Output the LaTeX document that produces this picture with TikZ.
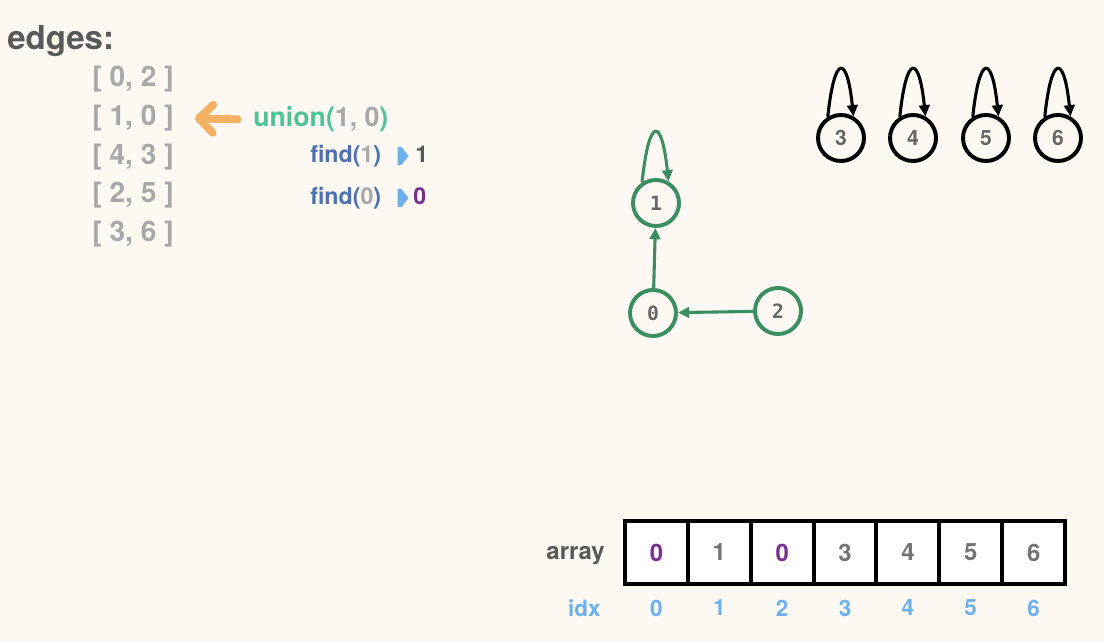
\documentclass[tikz,border=0pt]{standalone}
\usepackage{fontspec}
\setmainfont{TeX Gyre Heros}
\newfontfamily\monofont{DejaVu Sans Mono}
\usetikzlibrary{arrows.meta,positioning,shapes.symbols}
\definecolor{bgcream}{HTML}{FDF8F2}
\definecolor{darktext}{HTML}{595959}
\definecolor{edgegray}{HTML}{A8A8A8}
\definecolor{uniongreen}{HTML}{4FC296}
\definecolor{findblue}{HTML}{4A71B1}
\definecolor{markblue}{HTML}{6CB1EE}
\definecolor{rootpurple}{HTML}{7A2E8E}
\definecolor{graphgreen}{HTML}{3B8E64}
\definecolor{arroworange}{HTML}{F2B163}
\definecolor{labelgray}{HTML}{666666}
\definecolor{cellgray}{HTML}{737373}
\begin{document}
\begin{tikzpicture}[
    x=0.025cm,y=0.025cm,
    >={Triangle[length=8pt,width=7.5pt]},
    title/.style={
        anchor=base west,
        inner sep=0pt,
        font=\fontsize{23.5}{27}\selectfont\bfseries,
        text=darktext
    },
    pair/.style={inner sep=0pt,font=\fontsize{20}{24}\selectfont\bfseries,text=edgegray},
    call/.style={anchor=base west,inner sep=0pt,font=\fontsize{19}{22}\selectfont\bfseries},
    findcall/.style={anchor=base west,inner sep=0pt,font=\fontsize{16.5}{20}\selectfont\bfseries},
    marker/.style={
        signal,signal to=east,signal pointer angle=104,
        fill=markblue,
        minimum width=7.8pt,
        minimum height=12.8pt,
        inner sep=0pt
    },
    vertex/.style={circle,draw=graphgreen,line width=2.8pt,minimum size=1.15cm,inner sep=0pt,
        text=labelgray,font=\monofont\bfseries\fontsize{14}{14}\selectfont},
    single/.style={circle,draw=black,line width=2.8pt,minimum size=1.15cm,inner sep=0pt,
        text=labelgray,font=\fontsize{15}{15}\selectfont\bfseries},
    gedge/.style={->,draw=graphgreen,line width=2.2pt},
    selfloop/.style={->,line width=2.2pt},
    cell/.style={
        draw=black,fill=white,
        line width=2.85pt,
        minimum width=1.5715cm,
        minimum height=1.575cm,
        inner sep=0pt,outer sep=0pt,
        font=\fontsize{17}{17}\selectfont\bfseries,text=cellgray
    },
    idxnum/.style={font=\fontsize{16}{16}\selectfont\bfseries,text=markblue,inner sep=0pt},
    node distance=0.97cm
    ]

    \useasboundingbox (0,0) rectangle (1104,-642);
    \fill[bgcream] (0,0) rectangle (1104,-642);

    \node[title] (edges) at (7,-50) {edges:};
  \node[pair] (e1) at (133,-79) {[ 0, 2 ]};
    \node[pair,below of = e1] (e2) {[ 1, 0 ]};
      \node[pair,below of = e2] (e3) {[ 4, 3 ]};
        \node[pair,below of = e3] (e4) {[ 2, 5 ]};
          \node[pair,below of = e4] (e5) {[ 3, 6 ]};

 \node[call,text=uniongreen] (union) at (253,-127) {union(\textcolor{edgegray}{1, 0})};
 \node[findcall,text=findblue] (find1) at (310,-163) {find(\textcolor{edgegray}{1})};
 \node[findcall,text=findblue] (find0) at (310,-205) {find(\textcolor{edgegray}{0})};
 \node[marker] (m1) at (399.5,-156) {};
 \node[marker] (m0) at (399.5,-198) {};
 \node[findcall,text=darktext] (r1) at (415,-163) {1};
 \node[findcall,text=rootpurple] (r0) at (413,-205) {0};

    \draw[arroworange,line width=5.6pt,line cap=round,
        -{Straight Barb[length=10pt,width=20pt,round]},
        shorten <=11pt,shorten >=15pt] (union.west) -- (e2.east);

    % graph
  \node[vertex] (v1) at (656,-203) {1};
  \node[vertex] (v0) at (653,-313) {0};
  \node[vertex] (v2) at (778,-311) {2};
    \draw[gedge] (v0) -- (v1);
    \draw[gedge] (v2) -- (v0);
    \draw[gedge] (v1.124) .. controls +(84:66) and +(96:66) .. (v1.60);

  \node[single] (s3) at (841,-138) {3};
  \node[single] (s4) at (913,-138) {4};
  \node[single] (s5) at (986,-138) {5};
  \node[single] (s6) at (1058,-138) {6};
    \draw[selfloop] (s3.122) .. controls +(84:63) and +(96:63) .. (s3.60);
    \draw[selfloop] (s4.122) .. controls +(84:63) and +(96:63) .. (s4.60);
    \draw[selfloop] (s5.122) .. controls +(84:63) and +(96:63) .. (s5.60);
    \draw[selfloop] (s6.122) .. controls +(84:63) and +(96:63) .. (s6.60);

    % array
  \node[cell,text=rootpurple] (c0) at (656.4,-552.5) {0};
  \node[cell,right=0pt of c0] (c1) {1};
  \node[cell,right=0pt of c1,text=rootpurple] (c2) {0};
  \node[cell,right=0pt of c2] (c3) {3};
  \node[cell,right=0pt of c3] (c4) {4};
  \node[cell,right=0pt of c4] (c5) {5};
  \node[cell,right=0pt of c5] (c6) {6};
    \draw[line width=3.2pt] (c0.north west) rectangle (c6.south east);
  \node[font=\fontsize{17}{17}\selectfont\bfseries,text=darktext,inner sep=0pt,anchor=base east] (arr) at (605,-559) {array};

  \node[idxnum,anchor=east] (idx) at (601,-608) {idx};
  \node[idxnum] (i0) at (656.4,-608) {0};
  \node[idxnum] (i1) at (719.3,-608) {1};
  \node[idxnum] (i2) at (782.1,-608) {2};
  \node[idxnum] (i3) at (845,-608) {3};
  \node[idxnum] (i4) at (907.9,-608) {4};
  \node[idxnum] (i5) at (970.7,-608) {5};
  \node[idxnum] (i6) at (1033.6,-608) {6};

   % \draw[gedge] (v1) -- (v2);
    \end{tikzpicture}
\end{document}
